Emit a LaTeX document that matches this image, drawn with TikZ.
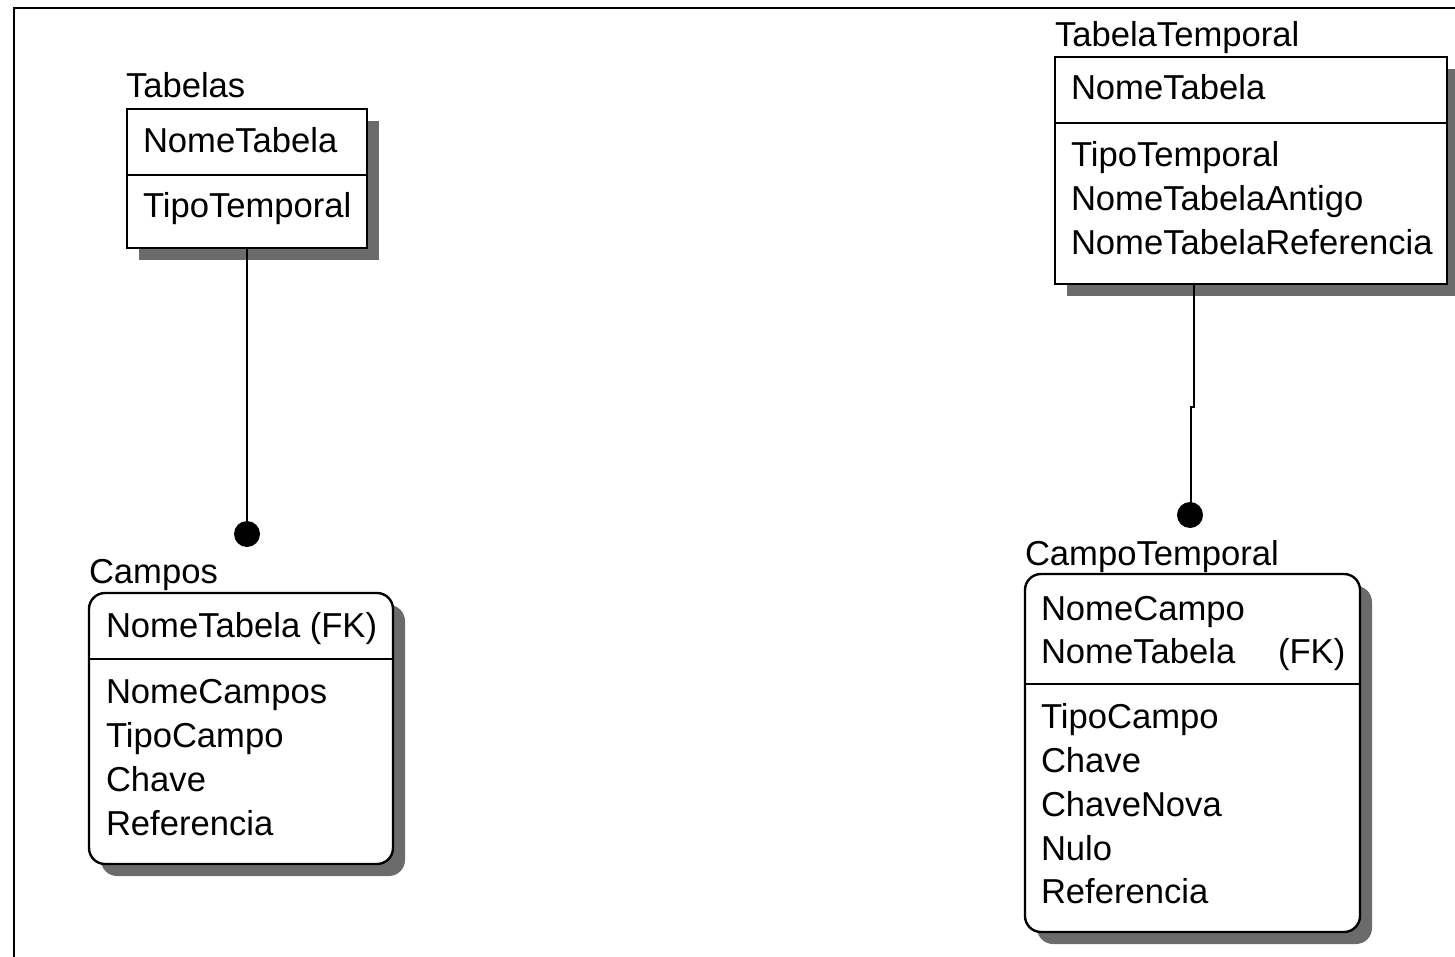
\documentclass[tikz,border=0pt]{standalone}
\usepackage{fontspec}
\setmainfont{Liberation Sans}
\usetikzlibrary{shadows}
\begin{document}
\begin{tikzpicture}[x=1pt,y=-1pt,
  every node/.style={inner sep=0pt, outer sep=0pt},
  txt/.style={anchor=base west, font=\fontsize{34.6}{40}\selectfont},
  entity/.style={draw, line width=2.4pt, fill=white, anchor=north west,
    drop shadow={shadow xshift=12pt, shadow yshift=-12pt, fill=black!58, opacity=1}},
  depent/.style={entity, rounded corners=16pt},
  divider/.style={line width=2.4pt},
  rel/.style={line width=2.4pt},
  reldot/.style={circle, fill=black, minimum size=26pt}]
\useasboundingbox (0,0) rectangle (1455,957);

% outer frame
\draw[line width=2.4pt] (14,957) -- (14,8) -- (1455,8);

% ---- Tabelas ----
\node[entity, minimum width=240pt, minimum height=139pt] (tab) at (127,109) {};
\node[txt] (tabname) at (126,98) {Tabelas};
\draw[divider] (tab.west |- 0,175) -- (tab.east |- 0,175);
\node[txt] (tabk1) at (143,153) {NomeTabela};
\node[txt] (taba1) at (143,218) {TipoTemporal};

% ---- TabelaTemporal ----
\node[entity, minimum width=392pt, minimum height=227pt] (tt) at (1055,57) {};
\node[txt] (ttname) at (1055,47) {TabelaTemporal};
\draw[divider] (tt.west |- 0,123) -- (tt.east |- 0,123);
\node[txt] (ttk1) at (1071,100) {NomeTabela};
\node[txt] (tta1) at (1071,167) {TipoTemporal};
\node[txt] (tta2) at (1071,211) {NomeTabelaAntigo};
\node[txt] (tta3) at (1071,255) {NomeTabelaReferencia};

% ---- Campos ----
\node[depent, minimum width=304pt, minimum height=271pt] (cp) at (89,593) {};
\node[txt] (cpname) at (89,583) {Campos};
\draw[divider] (cp.west |- 0,659) -- (cp.east |- 0,659);
\node[txt] (cpk1) at (106,637) {NomeTabela (FK)};
\node[txt] (cpa1) at (106,703) {NomeCampos};
\node[txt] (cpa2) at (106,747) {TipoCampo};
\node[txt] (cpa3) at (106,791) {Chave};
\node[txt] (cpa4) at (106,835) {Referencia};

% ---- CampoTemporal ----
\node[depent, minimum width=335pt, minimum height=358pt] (ct) at (1025,574) {};
\node[txt] (ctname) at (1025,565) {CampoTemporal};
\draw[divider] (ct.west |- 0,684) -- (ct.east |- 0,684);
\node[txt] (ctk1) at (1041,620) {NomeCampo};
\node[txt] (ctk2) at (1041,663) {NomeTabela};
\node[txt] (ctk2fk) at (1278,663) {(FK)};
\node[txt] (cta1) at (1041,728) {TipoCampo};
\node[txt] (cta2) at (1041,772) {Chave};
\node[txt] (cta3) at (1041,816) {ChaveNova};
\node[txt] (cta4) at (1041,860) {Nulo};
\node[txt] (cta5) at (1041,903) {Referencia};

% ---- relationships ----
\node[reldot] (d1) at (247,534) {};
\draw[rel] (tab.south) -- (d1.center);

\node[reldot] (d2) at (1190,515) {};
\coordinate (j1) at (1194,407);
\coordinate (j2) at (1191,407);
\draw[rel] (tt.south -| j1) -- (j1) -- (j2) -- (d2.center -| j2);
\end{tikzpicture}
\end{document}
